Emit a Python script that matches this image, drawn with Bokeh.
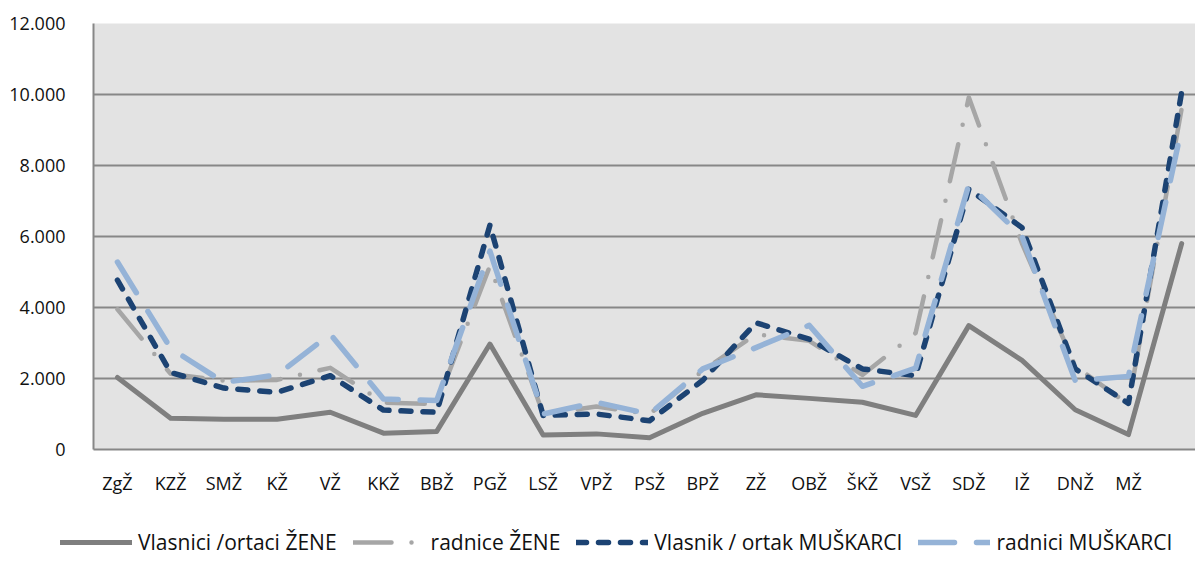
from bokeh.plotting import figure
from bokeh.models import Range1d, FixedTicker, Legend, LegendItem
from bokeh.layouts import column
from bokeh.embed import file_html
from bokeh.resources import INLINE

categories = ["ZgŽ", "KZŽ", "SMŽ", "KŽ", "VŽ", "KKŽ", "BBŽ", "PGŽ", "LSŽ", "VPŽ", "PSŽ",
              "BPŽ", "ZŽ", "OBŽ", "ŠKŽ", "VSŽ", "SDŽ", "IŽ", "DNŽ", "MŽ", ""]

vlasnici_zene = [2030, 880, 850, 850, 1050, 460, 510, 2970, 410, 440, 330,
                 1020, 1540, 1440, 1330, 960, 3490, 2510, 1120, 420, 5800]
radnice_zene = [3950, 2130, 1940, 1960, 2300, 1320, 1280, 5170, 1000, 1210, 1000,
                2220, 3250, 3060, 2100, 3280, 9920, 5800, 2350, 1270, 9600]
vlasnik_muskarci = [4770, 2170, 1730, 1610, 2080, 1110, 1050, 6320, 960, 1000, 810,
                    1950, 3570, 3110, 2270, 2080, 7330, 6250, 2270, 1300, 10070]
radnici_muskarci = [5280, 2850, 1890, 2100, 3250, 1420, 1380, 5590, 1000, 1330, 1000,
                    2270, 2870, 3500, 1780, 2290, 7460, 6000, 1940, 2060, 9060]

series_names = ["Vlasnici /ortaci ŽENE", "radnice ŽENE",
                "Vlasnik / ortak MUŠKARCI", "radnici MUŠKARCI"]
y_ticks = [0, 2000, 4000, 6000, 8000, 10000, 12000]
y_tick_labels = ["0", "2.000", "4.000", "6.000", "8.000", "10.000", "12.000"]

FONT = "Open Sans"
TEXT_COLOR = "#111111"
styles = [
    dict(line_color="#7f7f7f", line_width=5),
    dict(line_color="#a6a6a6", line_width=4.5, line_dash="38 20 0 20"),
    dict(line_color="#1c4373", line_width=5.5, line_dash="10 12"),
    dict(line_color="#95b3d7", line_width=5.5, line_dash="36 22"),
]
xs = list(range(len(categories)))
all_series = [vlasnici_zene, radnice_zene, vlasnik_muskarci, radnici_muskarci]

p = figure(width=1195, height=500, output_backend="svg", toolbar_location=None,
           x_range=Range1d(-0.45, 20.26), y_range=Range1d(0, 12000),
           min_border_left=93, min_border_right=0, min_border_top=23,
           min_border_bottom=51)
p.background_fill_color = "#e3e3e3"
p.border_fill_color = "white"
p.outline_line_color = None
p.frame_align = False

p.xaxis.ticker = FixedTicker(ticks=xs[:-1])
p.xaxis.major_label_overrides = {i: c for i, c in enumerate(categories) if c}
p.yaxis.ticker = FixedTicker(ticks=y_ticks)
p.yaxis.major_label_overrides = {t: l for t, l in zip(y_ticks, y_tick_labels)}
for ax in (p.xaxis, p.yaxis):
    ax.major_tick_line_color = None
    ax.minor_tick_line_color = None
    ax.axis_line_color = "#878787"
    ax.axis_line_width = 2
    ax.major_label_text_font = FONT
    ax.major_label_text_font_size = "18px"
    ax.major_label_text_color = TEXT_COLOR
p.xaxis.major_label_standoff = 15
p.yaxis.major_label_standoff = 22

p.xgrid.grid_line_color = None
p.ygrid.grid_line_color = "#878787"
p.ygrid.grid_line_width = 2

for ys, st in zip(all_series, styles):
    p.line(xs, ys, line_join="round", line_cap="round", **st)

# legend strip below the chart (its lines are hidden; only the legend shows)
pl = figure(width=1195, height=56, output_backend="svg", toolbar_location=None,
            x_range=Range1d(0, 1), y_range=Range1d(0, 1),
            x_axis_location=None, y_axis_location=None,
            min_border_left=0, min_border_right=0, min_border_top=0,
            min_border_bottom=0)
pl.outline_line_color = None
pl.frame_align = False
pl.xgrid.visible = False
pl.ygrid.visible = False
legend_renderers = []
for ys, st in zip(all_series, styles):
    r = pl.line(xs, ys, line_join="round", line_cap="round", **st)
    r.visible = False
    legend_renderers.append(r)
legend = Legend(items=[LegendItem(label=n, renderers=[r]) for n, r in
                       zip(series_names, legend_renderers)],
                orientation="horizontal", location=(60, 0),
                glyph_width=72, glyph_height=22, label_height=22,
                label_standoff=6, spacing=16, padding=0, margin=0,
                label_text_font=FONT, label_text_font_size="21px",
                label_text_color=TEXT_COLOR,
                background_fill_alpha=0, border_line_color=None)
pl.add_layout(legend)

layout = column(p, pl, spacing=0)
open("out.html", "w").write(file_html(layout, INLINE))
